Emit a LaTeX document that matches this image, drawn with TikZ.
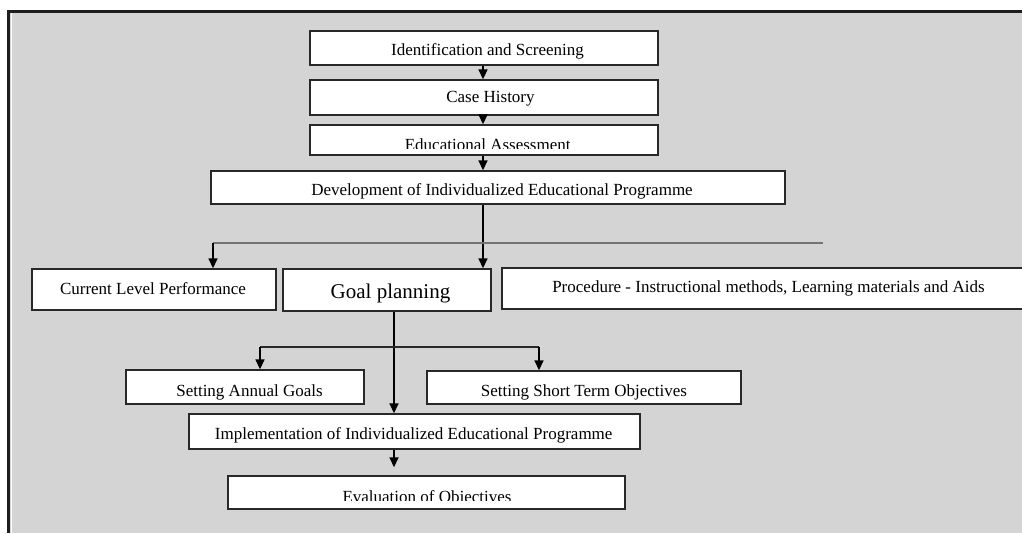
\documentclass[tikz,border=0pt]{standalone}
\usepackage{fontspec}
\setmainfont{Liberation Serif}
\usetikzlibrary{arrows.meta}
\definecolor{bgc}{RGB}{212,212,212}
\definecolor{boxc}{RGB}{40,40,40}
\definecolor{linec}{RGB}{115,115,115}
\definecolor{framec}{RGB}{30,30,30}
\newcommand{\fsA}{\fontsize{17}{20}\selectfont}
\newcommand{\fsB}{\fontsize{21}{24}\selectfont}
\tikzset{
  box/.style={draw=boxc, line width=1.4pt, fill=white, rectangle, inner sep=0pt},
  lbl/.style={anchor=base, inner sep=0pt, font=\fsA},
  biglbl/.style={anchor=base, inner sep=0pt, font=\fsB},
  arr/.style={draw=black, line width=1.6pt, -{Triangle[length=10pt,width=9pt]}},
  branch/.style={draw=linec, line width=1.2pt},
}
\begin{document}
\begin{tikzpicture}[x=1pt,y=-1pt]
\useasboundingbox (0,0) rectangle (1022,533);
% frame
\fill[bgc] (10,11) rectangle (1022,533);
\draw[white, line width=1pt] (11.5,13) -- (11.5,533);
\draw[framec, line width=3pt] (8.5,533) -- (8.5,11) -- (1022,11);

% boxes
\node[box, minimum width=348pt, minimum height=34pt] (id)   at (484,48)    {};
\node[box, minimum width=348pt, minimum height=35pt] (ch)   at (484,97.5)  {};
\node[box, minimum width=348pt, minimum height=30pt] (ea)   at (484,140)   {};
\node[box, minimum width=574pt, minimum height=33pt] (dev)  at (498,187.5) {};
\node[box, minimum width=244pt, minimum height=41pt] (clp)  at (154,289.5) {};
\node[box, minimum width=208pt, minimum height=42pt] (gp)   at (387,290)   {};
\node[box, minimum width=528pt, minimum height=41pt] (proc) at (766,288.5) {};
\node[box, minimum width=238pt, minimum height=34pt] (sag)  at (245,387)   {};
\node[box, minimum width=314pt, minimum height=33pt] (sto)  at (584,387.5) {};
\node[box, minimum width=451pt, minimum height=35pt] (impl) at (414.5,431.5) {};
\node[box, minimum width=397pt, minimum height=33pt] (eval) at (426.5,492.5) {};

% labels
\node[lbl] (idt)  at (487.5,55)  {Identification and Screening};
\node[lbl] (cht)  at (490.5,102) {Case History};
\begin{scope}
  \clip (312,126) rectangle (656,148);
  \node[lbl] (eat) at (487.7,150.5) {Educational Assessment};
\end{scope}
\node[lbl] (devt) at (502,195)   {Development of Individualized Educational Programme};
\node[lbl] (clpt) at (153,294)   {Current Level Performance};
\node[biglbl] (gpt) at (390.5,298) {Goal planning};
\node[lbl] (proct) at (768.5,292) {Procedure - Instructional methods, Learning materials and Aids};
\node[lbl] (sagt) at (249.5,396) {Setting Annual Goals};
\node[lbl] (stot) at (584,396)   {Setting Short Term Objectives};
\node[lbl] (implt) at (413.7,439) {Implementation of Individualized Educational Programme};
\begin{scope}
  \clip (230,478) rectangle (623,500);
  \node[lbl] (evalt) at (427,502.5) {Evaluation of Objectives};
\end{scope}

% connectors
\coordinate (ax1) at (483,0);
\coordinate (ax2) at (394,0);
\draw[arr] (id.south -| ax1) -- (ch.north -| ax1);
\draw[arr] (ch.south -| ax1) -- (ea.north -| ax1);
\draw[arr] (ea.south -| ax1) -- (dev.north -| ax1);
\draw[arr] (dev.south -| ax1) -- (gp.north -| ax1);

\coordinate (bl) at (213,243);
\coordinate (br) at (823,243);
\draw[branch] (bl) -- (br);
\draw[arr] (bl) -- (clp.north -| bl);

\draw[arr] (gp.south -| ax2) -- (impl.north -| ax2);

\coordinate (sl) at (260,347);
\coordinate (sr) at (539,347);
\draw[branch, draw=boxc] (sl) -- (sr);
\draw[arr] (sl) -- (sag.north -| sl);
\draw[arr] (sr) -- (sto.north -| sr);

\draw[arr, shorten >=8pt] (impl.south -| ax2) -- (eval.north -| ax2);
\end{tikzpicture}
\end{document}
